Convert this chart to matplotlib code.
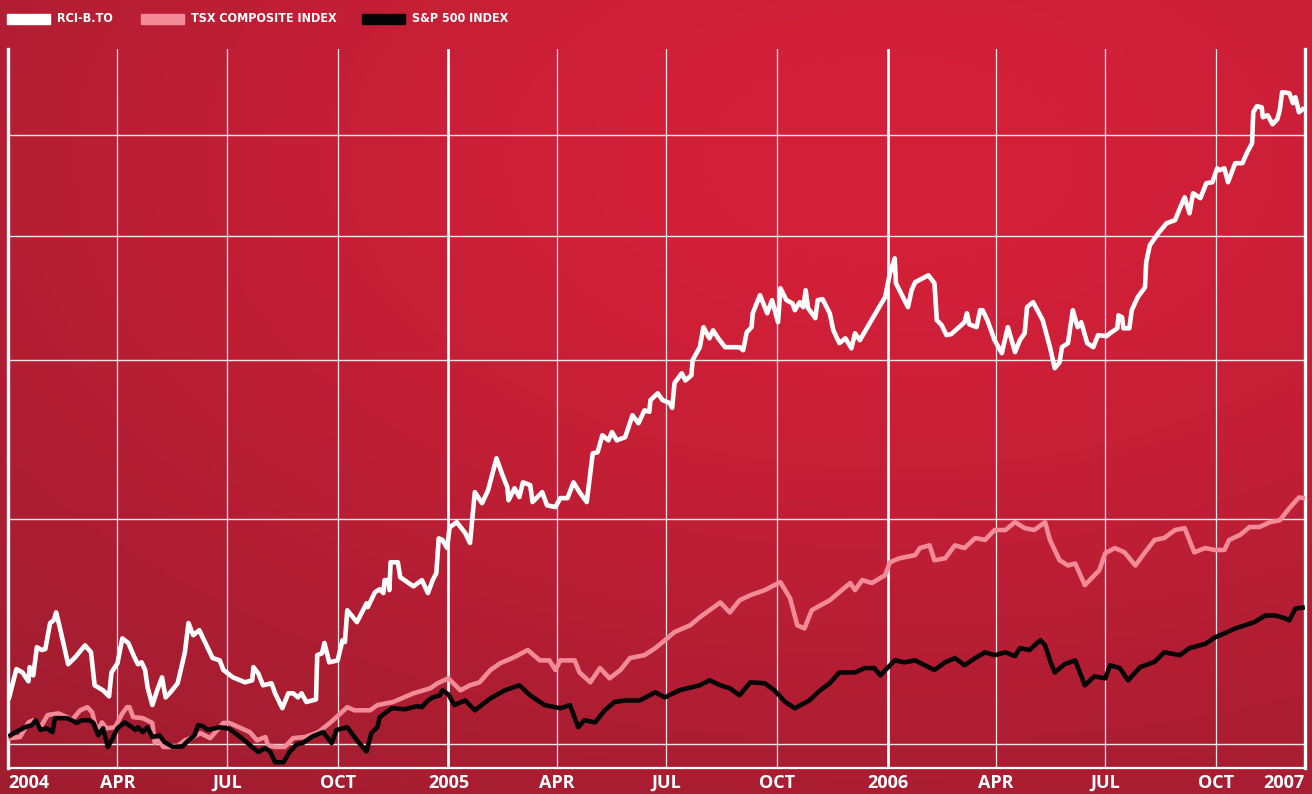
import numpy as np
import matplotlib
matplotlib.use("Agg")
import matplotlib.pyplot as plt
import matplotlib.ticker as mticker
from matplotlib.patches import Rectangle

# x = days since 2004-01-01, y = indexed value (log scale)
RCI_DAYS = [1, 7, 12, 17, 18, 21, 24, 28, 31, 35, 38, 40, 43, 50, 56, 64, 69, 72, 79, 84,
            86, 91, 95, 100, 105, 108, 111, 114, 116, 120, 124, 128, 131, 135, 141, 147, 150, 154, 159, 170,
            176, 179, 187, 197, 203, 204, 208, 212, 219, 222, 228, 233, 237, 241, 244, 248, 256, 257, 261, 263,
            267, 274, 278, 280, 282, 290, 298, 299, 305, 309, 312, 313, 316, 317, 318, 324, 326, 337, 344, 349,
            353, 356, 358, 361, 365, 367, 373, 380, 384, 388, 394, 399, 406, 411, 415, 416, 421, 425, 428, 434,
            436, 444, 448, 455, 459, 465, 470, 475, 481, 484, 486, 490, 494, 499, 502, 506, 513, 519, 524, 529,
            533, 534, 540, 544, 550, 552, 554, 560, 563, 568, 569, 575, 578, 583, 586, 590, 596, 608, 611, 614,
            618, 619, 625, 631, 635, 640, 642, 647, 652, 654, 658, 661, 663, 665, 671, 673, 677, 683, 686, 691,
            696, 701, 704, 708, 725, 729, 733, 737, 738, 748, 751, 754, 765, 770, 772, 776, 780, 784, 795, 797,
            799, 805, 808, 810, 814, 820, 826, 831, 837, 841, 845, 847, 852, 860, 866, 870, 874, 876, 881, 885,
            889, 892, 897, 902, 906, 913, 916, 922, 923, 926, 927, 932, 934, 939, 945, 946, 949, 956, 963, 970,
            974, 978, 982, 985, 991, 996, 1001, 1005, 1007, 1011, 1014, 1020, 1026, 1030, 1034, 1035, 1038, 1042, 1043, 1047,
            1051, 1055, 1057, 1059, 1065, 1068, 1070, 1073, 1076]
RCI_VALUES = [108.8, 114.5, 113.8, 112.0, 114.9, 113.2, 119.1, 118.5, 118.7, 124.4, 125.0, 126.8, 123.5, 115.5, 117.0, 119.5, 118.0, 111.2, 110.2, 109.0,
              113.8, 115.7, 121.0, 120.0, 117.0, 115.5, 115.9, 114.3, 110.8, 107.3, 110.2, 112.8, 108.8, 109.8, 111.6, 118.0, 124.4, 121.7, 122.8, 116.8,
              116.3, 114.3, 112.8, 111.8, 112.2, 114.9, 113.6, 111.2, 111.6, 109.6, 106.7, 109.6, 109.6, 108.8, 109.6, 107.9, 108.4, 117.4, 117.8, 120.0,
              115.9, 116.3, 120.6, 120.2, 127.3, 124.6, 128.9, 128.0, 131.5, 132.2, 131.3, 134.4, 134.4, 132.0, 138.8, 138.8, 135.1, 132.9, 134.4, 131.3,
              134.4, 136.1, 144.9, 144.5, 142.4, 147.8, 149.2, 146.3, 143.7, 157.5, 154.4, 158.0, 167.4, 162.4, 158.9, 155.2, 158.6, 156.1, 160.3, 159.5,
              154.7, 157.5, 153.8, 153.3, 155.8, 155.8, 160.3, 157.5, 154.7, 163.0, 168.9, 169.2, 174.5, 172.9, 175.5, 172.9, 173.9, 180.9, 178.3, 182.5,
              182.0, 185.9, 188.2, 185.9, 184.9, 183.3, 191.7, 195.1, 192.6, 194.4, 199.8, 204.5, 212.0, 207.8, 210.8, 208.0, 204.5, 204.5, 203.4, 210.1,
              212.0, 217.4, 224.6, 217.4, 222.6, 213.9, 227.4, 222.6, 221.3, 218.6, 221.8, 219.8, 226.6, 219.4, 215.5, 222.6, 223.0, 217.4, 210.8, 206.0,
              207.8, 204.1, 209.7, 207.1, 220.6, 223.8, 233.6, 240.0, 229.5, 219.8, 226.6, 229.9, 232.8, 229.5, 214.7, 212.8, 209.0, 209.4, 213.9, 217.4,
              213.1, 212.0, 218.6, 218.6, 214.7, 207.1, 202.3, 212.0, 202.7, 207.1, 209.7, 219.8, 221.8, 214.7, 204.5, 196.9, 199.0, 204.5, 206.0, 218.6,
              212.0, 213.9, 206.0, 204.5, 209.0, 208.6, 209.7, 211.6, 216.6, 215.8, 211.6, 211.6, 218.6, 223.8, 227.8, 238.3, 245.7, 251.1, 255.7, 257.1,
              262.7, 267.9, 260.3, 269.9, 267.5, 274.8, 275.3, 282.3, 281.3, 282.3, 275.3, 284.9, 284.9, 290.6, 295.3, 312.3, 315.7, 315.1, 309.5, 310.6,
              305.6, 308.4, 313.4, 323.8, 323.2, 317.4, 320.9, 312.3, 314.0]

TSX_DAYS = [2, 10, 17, 21, 27, 33, 42, 49, 53, 60, 66, 70, 74, 78, 82, 89, 95, 99, 101, 104,
            112, 120, 122, 126, 129, 140, 147, 154, 160, 168, 179, 184, 201, 207, 214, 216, 222, 230, 237, 247,
            258, 268, 273, 282, 288, 301, 307, 320, 337, 351, 357, 366, 376, 384, 392, 401, 409, 421, 432, 442,
            450, 455, 459, 471, 475, 484, 492, 500, 509, 517, 529, 538, 546, 554, 567, 575, 583, 592, 600, 608,
            617, 629, 637, 642, 650, 656, 662, 668, 675, 683, 691, 700, 704, 710, 718, 729, 733, 741, 754, 758,
            766, 770, 779, 787, 795, 804, 812, 820, 829, 837, 845, 853, 862, 866, 874, 881, 887, 895, 903, 907,
            912, 920, 928, 937, 945, 953, 961, 970, 978, 986, 995, 1003, 1011, 1015, 1024, 1032, 1040, 1049, 1057, 1065,
            1073, 1077]
TSX_VALUES = [101.1, 101.3, 104.0, 104.4, 103.1, 105.4, 105.7, 105.0, 104.4, 106.3, 106.9, 105.9, 102.2, 104.0, 102.9, 103.1, 105.7, 106.9, 106.9, 105.0,
              104.8, 103.9, 100.2, 100.7, 99.5, 99.5, 100.7, 101.3, 102.0, 101.1, 103.9, 103.9, 102.2, 100.7, 101.3, 99.8, 99.5, 99.5, 101.1, 101.3,
              102.2, 104.0, 105.0, 106.9, 106.3, 106.3, 107.3, 107.9, 109.6, 110.6, 111.6, 112.6, 110.2, 111.2, 111.8, 114.3, 115.7, 117.0, 118.5, 116.3,
              116.3, 114.3, 116.3, 116.3, 113.8, 111.8, 114.7, 112.6, 114.3, 116.8, 117.4, 118.9, 120.6, 122.4, 123.9, 125.7, 127.3, 129.1, 126.8, 129.6,
              130.8, 132.0, 133.2, 133.9, 130.1, 123.9, 123.2, 127.3, 128.4, 129.6, 131.5, 133.7, 132.0, 134.4, 133.7, 135.6, 138.8, 139.8, 140.6, 142.4,
              143.1, 139.3, 139.8, 143.1, 142.4, 145.0, 144.5, 147.1, 147.1, 149.2, 147.6, 147.1, 149.2, 144.5, 139.3, 138.0, 138.5, 133.2, 135.6, 136.8,
              141.1, 142.4, 141.3, 138.0, 141.3, 144.5, 145.0, 147.1, 147.6, 141.3, 142.4, 141.9, 141.9, 144.5, 145.8, 147.9, 147.9, 149.2, 149.7, 153.0,
              156.0, 155.8]

SPX_DAYS = [2, 6, 10, 14, 20, 23, 27, 32, 37, 39, 49, 53, 57, 61, 68, 71, 75, 79, 83, 87,
            91, 97, 103, 106, 108, 112, 116, 120, 126, 130, 137, 145, 150, 155, 158, 162, 166, 176, 184, 193,
            208, 214, 218, 222, 229, 234, 240, 245, 253, 262, 269, 273, 282, 290, 298, 302, 307, 309, 319, 330,
            340, 344, 349, 353, 359, 361, 366, 371, 380, 388, 401, 413, 425, 434, 446, 459, 467, 474, 479, 488,
            496, 504, 513, 525, 538, 546, 558, 575, 583, 592, 600, 608, 617, 629, 637, 646, 654, 666, 675, 683,
            691, 704, 712, 720, 725, 737, 745, 754, 762, 770, 779, 787, 795, 804, 812, 820, 829, 837, 841, 849,
            858, 862, 866, 870, 878, 887, 895, 903, 912, 916, 924, 931, 941, 953, 961, 974, 982, 995, 1003, 1011,
            1020, 1028, 1036, 1045, 1053, 1061, 1065, 1070, 1076]
SPX_VALUES = [101.6, 102.2, 102.6, 103.1, 103.5, 104.4, 102.6, 102.9, 102.2, 104.8, 104.8, 104.4, 103.9, 104.4, 104.4, 103.9, 101.6, 102.9, 99.5, 101.1,
              102.9, 104.0, 103.1, 102.6, 103.1, 102.2, 103.1, 101.3, 101.6, 100.4, 99.5, 99.6, 100.7, 101.6, 103.5, 103.3, 102.6, 103.1, 102.8, 101.3,
              98.6, 99.3, 98.6, 96.8, 96.8, 98.6, 100.0, 100.2, 101.4, 102.2, 100.2, 102.6, 103.1, 100.7, 98.7, 102.0, 103.1, 105.0, 106.7, 106.5,
              107.1, 106.9, 108.2, 108.8, 109.2, 110.2, 109.4, 107.3, 108.2, 106.3, 108.6, 110.2, 111.2, 109.2, 107.3, 106.7, 107.3, 103.1, 104.4, 104.0,
              106.3, 107.9, 108.2, 108.2, 109.8, 108.8, 110.2, 111.2, 112.2, 111.2, 110.6, 109.2, 111.8, 111.6, 110.2, 107.9, 106.7, 108.2, 110.2, 111.6,
              113.8, 113.8, 114.7, 114.7, 113.2, 116.3, 115.9, 116.3, 115.3, 114.3, 115.9, 116.8, 115.3, 116.8, 118.0, 117.4, 118.0, 117.2, 118.9, 118.5,
              120.6, 119.5, 116.3, 113.8, 115.5, 116.3, 111.2, 113.0, 112.6, 115.3, 114.7, 112.2, 114.9, 116.0, 118.0, 117.4, 118.9, 119.8, 121.2, 122.1,
              123.2, 123.9, 124.6, 126.1, 126.1, 125.5, 125.0, 127.7, 127.9]

SERIES_NAMES = ["RCI-B.TO", "TSX COMPOSITE INDEX", "S&P 500 INDEX"]
QUARTER_DAYS = [0, 91, 182, 274, 366, 456, 547, 639, 731, 821, 912, 1004]
QUARTER_LABELS = ["2004", "APR", "JUL", "OCT", "2005", "APR", "JUL", "OCT",
                  "2006", "APR", "JUL", "OCT"]
YEAR_DAYS = [366, 731]
GRID_LEVELS = [100, 150, 200, 250, 300]

X_END = 1078
Y_MIN, Y_MAX = 95.8, 350

WHITE = "#FFFFFF"
PINK = "#F28A97"
BLACK = "#050505"
BRIGHT = np.array([213, 32, 57]) / 255
DARK = np.array([150, 28, 46]) / 255


def background(h=200, w=330):
    u = np.linspace(0, 1, w)[None, :]
    v = np.linspace(0, 1, h)[:, None]
    f = np.exp(-(((u - 0.68) / 0.8) ** 2 + ((v - 0.2) / 0.75) ** 2))
    return DARK + (BRIGHT - DARK) * f[..., None]


fig = plt.figure(figsize=(13.12, 7.94), dpi=100)

ax_bg = fig.add_axes([0, 0, 1, 1], zorder=0)
ax_bg.imshow(background(), aspect="auto", extent=[0, 1, 0, 1], origin="upper")
ax_bg.axis("off")

W, H = 1312, 794
ax = fig.add_axes([8 / W, 1 - 768 / H, (1305 - 8) / W, (768 - 49) / H], zorder=1)
ax.set_facecolor("none")

ax.set_yscale("log")
ax.set_xlim(0, X_END)
ax.set_ylim(Y_MIN, Y_MAX)

# grid
for lvl in GRID_LEVELS:
    ax.axhline(lvl, color="white", lw=1.0, alpha=0.9, zorder=1)
for d in QUARTER_DAYS[1:]:
    lw = 2.0 if d in YEAR_DAYS else 0.9
    ax.axvline(d, color="white", lw=lw, alpha=0.9 if d not in YEAR_DAYS else 1.0, zorder=1)

ax.plot(TSX_DAYS, TSX_VALUES, color=PINK, lw=3.3, solid_joinstyle="round", zorder=3)
ax.plot(SPX_DAYS, SPX_VALUES, color=BLACK, lw=3.3, solid_joinstyle="round", zorder=4)
ax.plot(RCI_DAYS, RCI_VALUES, color=WHITE, lw=3.3, solid_joinstyle="round", zorder=5)

ax.spines["top"].set_visible(False)
ax.spines["left"].set_color("white")
ax.spines["left"].set_linewidth(2.4)
ax.spines["right"].set_color("white")
ax.spines["right"].set_linewidth(2.4)
ax.spines["bottom"].set_color("white")
ax.spines["bottom"].set_linewidth(1.6)

ax.yaxis.set_major_locator(mticker.NullLocator())
ax.yaxis.set_minor_locator(mticker.NullLocator())

ax.set_xticks(QUARTER_DAYS + [X_END])
labels = ax.set_xticklabels(QUARTER_LABELS + ["2007"], fontfamily="Open Sans",
                            fontweight="bold", fontsize=13, color="white")
labels[0].set_horizontalalignment("left")
labels[-1].set_horizontalalignment("right")
ax.tick_params(axis="x", length=0, pad=4)

# legend at the top
leg_items = [(7, SERIES_NAMES[0], WHITE), (141, SERIES_NAMES[1], PINK), (362, SERIES_NAMES[2], BLACK)]
for x0, name, col in leg_items:
    fig.patches.append(Rectangle((x0 / W, 1 - 24 / H), 43 / W, 10 / H,
                                 transform=fig.transFigure, color=col, zorder=2))
    fig.text((x0 + 50) / W, 1 - 19 / H, name, color="white", fontsize=9,
             fontweight="bold", family="DejaVu Sans", fontstretch="condensed",
             va="center", ha="left", zorder=2)

fig.savefig("out.png", dpi=100)
